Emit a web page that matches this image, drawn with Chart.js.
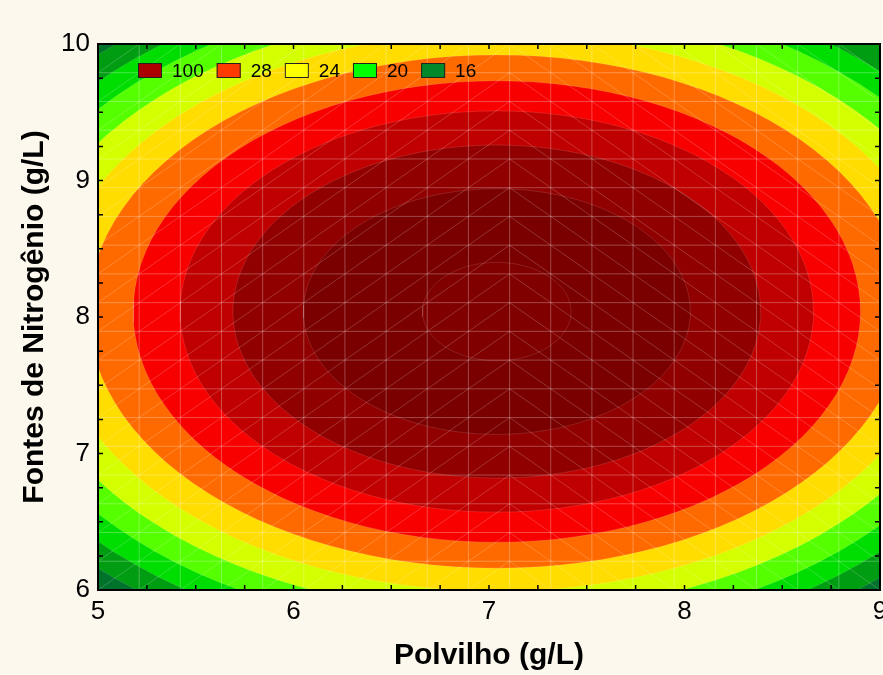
<!DOCTYPE html>
<html>
<head>
<meta charset="utf-8">
<script src="https://cdn.jsdelivr.net/npm/chart.js@4.4.1/dist/chart.umd.min.js"></script>
<style>
  html, body { margin: 0; padding: 0; background: #fdf8ee; }
  #wrap { width: 883px; height: 675px; }
</style>
</head>
<body>
<div id="wrap"><canvas id="contourChart"></canvas></div>
<script>
// Surface peak and contour ellipses (half-widths in axis units), center -> outside
const peakX = 7.04;
const peakY = 8.04;
const contourRx = [0.38, 0.99, 1.35, 1.62, 1.86, 2.09, 2.28, 2.46, 2.62, 2.77, 2.92];
const contourRy = [0.36, 0.90, 1.22, 1.47, 1.69, 1.88, 2.05, 2.21, 2.36, 2.49, 2.63];
// colour inside each contour, and beyond the last one
const bandColors = ['#800000', '#7a0000', '#910000', '#c00000', '#f80000', '#ff6a00',
                    '#ffdd00', '#d4ff00', '#55ff00', '#00dd00', '#009c12'];
const outerColor = '#00722c';

// legend as shown on the plot
const legendLabels = ['100', '28', '24', '20', '16'];
const legendColors = ['#aa0000', '#ff3a00', '#ffff00', '#00ff00', '#00882a'];

// axes
const xRange = [5, 9];
const yRange = [6, 10];
const meshCells = 19;

Chart.defaults.font.family = 'Arial, "Liberation Sans", sans-serif';
Chart.defaults.color = '#000';

function ellipsePoints(rx, ry) {
    const pts = [];
    const n = 120;
    for (let i = 0; i <= n; i++) {
        const t = 2 * Math.PI * i / n;
        pts.push({ x: peakX + rx * Math.cos(t), y: peakY + ry * Math.sin(t) });
    }
    return pts;
}

// index 0 is drawn last (on top), so innermost contour goes first
const datasets = contourRx.map((rx, k) => ({
    label: 'contour ' + k,
    data: ellipsePoints(rx, contourRy[k]),
    backgroundColor: bandColors[k],
    borderColor: 'rgba(255,255,255,0.12)',
    borderWidth: 1,
    fill: 'shape',
    pointRadius: 0,
    tension: 0
}));

const contourDecor = {
    id: 'contourDecor',
    beforeDatasetsDraw(chart) {
        const a = chart.chartArea;
        const ctx = chart.ctx;
        ctx.save();
        ctx.fillStyle = outerColor;
        ctx.fillRect(a.left, a.top, a.right - a.left, a.bottom - a.top);
        ctx.restore();
    },
    afterDatasetsDraw(chart) {
        const ctx = chart.ctx;
        const xs = chart.scales.x, ys = chart.scales.y;
        const a = chart.chartArea;
        const gx = [], gy = [];
        for (let i = 0; i <= meshCells; i++) {
            gx.push(xs.getPixelForValue(xRange[0] + (xRange[1] - xRange[0]) * i / meshCells));
            gy.push(ys.getPixelForValue(yRange[0] + (yRange[1] - yRange[0]) * i / meshCells));
        }
        ctx.save();
        ctx.beginPath();
        ctx.rect(a.left, a.top, a.right - a.left, a.bottom - a.top);
        ctx.clip();
        ctx.lineWidth = 1;
        ctx.strokeStyle = 'rgba(255,255,255,0.28)';
        ctx.beginPath();
        gx.forEach(px => { ctx.moveTo(px, a.top); ctx.lineTo(px, a.bottom); });
        gy.forEach(py => { ctx.moveTo(a.left, py); ctx.lineTo(a.right, py); });
        ctx.stroke();
        // triangulation diagonals
        ctx.strokeStyle = 'rgba(255,255,255,0.2)';
        ctx.beginPath();
        for (let i = 0; i < meshCells; i++) {
            for (let j = 0; j < meshCells; j++) {
                if (i < 10) {
                    ctx.moveTo(gx[i], gy[j]);
                    ctx.lineTo(gx[i + 1], gy[j + 1]);
                } else {
                    ctx.moveTo(gx[i], gy[j + 1]);
                    ctx.lineTo(gx[i + 1], gy[j]);
                }
            }
        }
        ctx.stroke();
        ctx.restore();
    },
    afterDraw(chart) {
        const ctx = chart.ctx;
        const xs = chart.scales.x, ys = chart.scales.y;
        const a = chart.chartArea;
        ctx.save();
        // frame
        ctx.strokeStyle = '#000';
        ctx.lineWidth = 2;
        ctx.strokeRect(a.left, a.top, a.right - a.left, a.bottom - a.top);
        // inward tick marks every 0.25
        ctx.lineWidth = 1.5;
        ctx.beginPath();
        for (let v = xRange[0]; v <= xRange[1] + 1e-9; v += 0.25) {
            const px = xs.getPixelForValue(v);
            ctx.moveTo(px, a.bottom); ctx.lineTo(px, a.bottom - 5);
            ctx.moveTo(px, a.top); ctx.lineTo(px, a.top + 5);
        }
        for (let v = yRange[0]; v <= yRange[1] + 1e-9; v += 0.25) {
            const py = ys.getPixelForValue(v);
            ctx.moveTo(a.left, py); ctx.lineTo(a.left + 5, py);
            ctx.moveTo(a.right, py); ctx.lineTo(a.right - 5, py);
        }
        ctx.stroke();

        // legend
        ctx.font = '19px Arial, "Liberation Sans", sans-serif';
        ctx.textBaseline = 'middle';
        ctx.textAlign = 'left';
        let lx = a.left + 40;
        const ly = a.top + 19;
        legendLabels.forEach((txt, i) => {
            ctx.fillStyle = legendColors[i];
            ctx.fillRect(lx, ly, 24, 15);
            ctx.strokeStyle = '#222';
            ctx.lineWidth = 1;
            ctx.strokeRect(lx + 0.5, ly + 0.5, 23, 14);
            ctx.fillStyle = '#000';
            ctx.fillText(txt, lx + 34, ly + 8.5);
            lx += 34 + ctx.measureText(txt).width + 13;
        });
        ctx.restore();
    }
};

new Chart(document.getElementById('contourChart'), {
    type: 'line',
    data: { datasets: datasets },
    options: {
        responsive: true,
        maintainAspectRatio: false,
        animation: false,
        layout: {
            padding: { top: 44, right: 3, left: 0, bottom: 0 },
            autoPadding: false
        },
        plugins: {
            legend: { display: false },
            tooltip: { enabled: false }
        },
        scales: {
            x: {
                type: 'linear',
                min: xRange[0],
                max: xRange[1],
                grid: { display: false, drawTicks: false },
                border: { display: false },
                ticks: { stepSize: 1, font: { size: 26 }, color: '#000', padding: 6 },
                title: {
                    display: true,
                    text: 'Polvilho (g/L)',
                    font: { size: 30, weight: 'bold' },
                    color: '#000',
                    padding: { top: 0, bottom: 1 }
                },
                afterFit: s => {
                    s.height = 85;
                    s.paddingLeft = 0;
                    s.paddingRight = 0;
                }
            },
            y: {
                type: 'linear',
                min: yRange[0],
                max: yRange[1],
                grid: { display: false, drawTicks: false },
                border: { display: false },
                ticks: { stepSize: 1, font: { size: 26 }, color: '#000', padding: 8 },
                title: {
                    display: true,
                    text: 'Fontes de Nitrogênio (g/L)',
                    font: { size: 30, weight: 'bold' },
                    color: '#000',
                    padding: { top: 17, bottom: 0 }
                },
                afterFit: s => {
                    s.width = 98;
                    s.paddingTop = 0;
                    s.paddingBottom = 0;
                }
            }
        }
    },
    plugins: [contourDecor]
});
</script>
</body>
</html>
